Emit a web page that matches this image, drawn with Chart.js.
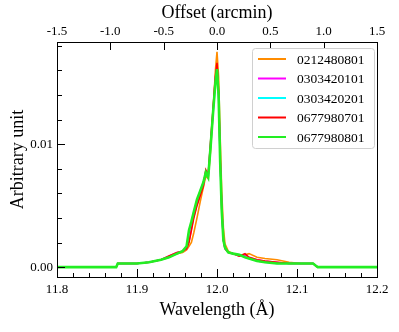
<!DOCTYPE html>
<html>
<head>
<meta charset="utf-8">
<script src="https://cdn.jsdelivr.net/npm/chart.js@4"></script>
<style>
  html, body { margin: 0; padding: 0; background: #fff; }
  canvas { display: block; }
</style>
</head>
<body>
<canvas id="chartLines" width="399" height="332"></canvas>
<script>
// wavelength grid (Angstrom), shared by all observations
const wavelength = [11.80, 11.874, 11.876, 11.90, 11.915, 11.93, 11.94, 11.95, 11.957, 11.962,
  11.965, 11.968, 11.971, 11.975, 11.979, 11.983, 11.986, 11.989, 11.992, 11.995,
  11.998, 12.000, 12.002, 12.004, 12.006, 12.008, 12.010, 12.014, 12.020, 12.028,
  12.035, 12.040, 12.050, 12.060, 12.075, 12.090, 12.105, 12.120, 12.126, 12.200];

const obsIds = ['0212480801', '0303420101', '0303420201', '0677980701', '0677980801'];

const obs0212480801 = [0, 0, 0.0003, 0.0003, 0.0004, 0.0006, 0.0008, 0.0011, 0.0012, 0.0014,
  0.0017, 0.0020, 0.0028, 0.0040, 0.0053, 0.0065, 0.0074, 0.0072, 0.0095, 0.0125,
  0.0160, 0.0175, 0.0155, 0.0105, 0.0060, 0.0032, 0.0019, 0.0013, 0.0011, 0.0009,
  0.0010, 0.0011, 0.0008, 0.0007, 0.0006, 0.0004, 0.0003, 0.0003, 0, 0];

const obs0303420101 = [0, 0, 0.0003, 0.0003, 0.0004, 0.0006, 0.0009, 0.0012, 0.0013, 0.0015,
  0.0021, 0.0031, 0.0041, 0.0051, 0.0059, 0.0067, 0.0078, 0.0075, 0.0101, 0.0127,
  0.0153, 0.0164, 0.0140, 0.0087, 0.0046, 0.0022, 0.0015, 0.0012, 0.0011, 0.0009,
  0.0010, 0.0008, 0.0006, 0.0005, 0.0004, 0.0003, 0.0003, 0.0003, 0, 0];

const obs0303420201 = [0, 0, 0.0003, 0.0003, 0.0004, 0.0006, 0.0008, 0.0011, 0.0013, 0.0017,
  0.0029, 0.0037, 0.0045, 0.0054, 0.0062, 0.0069, 0.0076, 0.0073, 0.0098, 0.0124,
  0.0149, 0.0160, 0.0139, 0.0084, 0.0045, 0.0022, 0.0015, 0.0012, 0.0011, 0.0010,
  0.0008, 0.0007, 0.0005, 0.0004, 0.0003, 0.0003, 0.0003, 0.0003, 0, 0];

const obs0677980701 = [0, 0, 0.0003, 0.0003, 0.0004, 0.0006, 0.0009, 0.0012, 0.0013, 0.0015,
  0.0020, 0.0030, 0.0040, 0.0050, 0.0058, 0.0066, 0.0079, 0.0075, 0.0102, 0.0128,
  0.0155, 0.0166, 0.0142, 0.0088, 0.0046, 0.0022, 0.0015, 0.0012, 0.0011, 0.0009,
  0.0011, 0.0008, 0.0006, 0.0005, 0.0004, 0.0003, 0.0003, 0.0003, 0, 0];

const obs0677980801 = [0, 0, 0.0003, 0.0003, 0.0004, 0.0006, 0.0008, 0.0011, 0.0013, 0.0017,
  0.0030, 0.0037, 0.0045, 0.0055, 0.0062, 0.0069, 0.0077, 0.0073, 0.0098, 0.0125,
  0.0150, 0.0161, 0.0140, 0.0085, 0.0045, 0.0022, 0.0016, 0.0012, 0.0011, 0.0010,
  0.0008, 0.0007, 0.0005, 0.0004, 0.0003, 0.0003, 0.0003, 0.0003, 0, 0];

const xTicks = [11.8, 11.9, 12.0, 12.1, 12.2];
const yTicks = [0, 0.01];
const offsetTicks = [-1.5, -1.0, -0.5, 0.0, 0.5, 1.0, 1.5];

const serif = "'Liberation Serif', 'DejaVu Serif', serif";
const black = '#000';

const xMinor = [];
for (let i = 0; i <= 20; i++) xMinor.push(11.8 + i * 0.02);
const yMinor = [];
for (let i = 0; i <= 9; i++) yMinor.push(i * 0.002);

function pts(values) {
  return wavelength.map((w, i) => ({ x: w, y: values[i] }));
}

// inward ticks, frame and boxed legend inside the plot
const framePlugin = {
  id: 'frame',
  afterDatasetsDraw(chart) {
    const { ctx, chartArea: a, scales } = chart;
    ctx.save();
    ctx.strokeStyle = black;
    ctx.lineWidth = 1;
    ctx.beginPath();
    xMinor.forEach(v => {
      const px = Math.round(scales.x.getPixelForValue(v)) + 0.5;
      const major = xTicks.some(t => Math.abs(t - v) < 1e-6);
      ctx.moveTo(px, a.bottom);
      ctx.lineTo(px, a.bottom - (major ? 8 : 4));
    });
    offsetTicks.forEach(v => {
      const px = Math.round(scales.x2.getPixelForValue(v)) + 0.5;
      ctx.moveTo(px, a.top);
      ctx.lineTo(px, a.top + 8);
    });
    yMinor.forEach(v => {
      const py = Math.round(scales.y.getPixelForValue(v)) + 0.5;
      const major = yTicks.some(t => Math.abs(t - v) < 1e-9);
      ctx.moveTo(a.left, py);
      ctx.lineTo(a.left + (major ? 8 : 5), py);
    });
    ctx.stroke();
    ctx.strokeRect(Math.round(a.left) + 0.5, Math.round(a.top) + 0.5,
      Math.round(a.right - a.left), Math.round(a.bottom - a.top));

    // legend
    const lx = a.left + 195, ly = a.top + 6, lw = 122, lh = 100;
    ctx.fillStyle = '#fff';
    ctx.strokeStyle = '#d0d0d0';
    ctx.beginPath();
    ctx.roundRect(lx + 0.5, ly + 0.5, lw, lh, 3);
    ctx.fill();
    ctx.stroke();
    ctx.font = '13.5px ' + serif;
    ctx.textBaseline = 'middle';
    chart.data.datasets.forEach((ds, i) => {
      const y = ly + 11 + i * 19.5;
      ctx.strokeStyle = ds.borderColor;
      ctx.lineWidth = 2;
      ctx.beginPath();
      ctx.moveTo(lx + 6, y);
      ctx.lineTo(lx + 34, y);
      ctx.stroke();
      ctx.fillStyle = black;
      ctx.fillText(ds.label, lx + 45, y + 1);
    });
    ctx.restore();
  }
};

const colors = ['#ff8c00', '#ff00ff', '#00ffff', '#ff0000', '#22ee22'];
const series = [obs0212480801, obs0303420101, obs0303420201, obs0677980701, obs0677980801];

new Chart(document.getElementById('chartLines'), {
  type: 'line',
  data: {
    datasets: series.map((vals, i) => ({
      label: obsIds[i],
      data: pts(vals),
      borderColor: colors[i],
      borderWidth: i === 4 ? 2.6 : 1.6,
      pointRadius: 0,
      tension: 0,
      fill: false,
      order: series.length - i
    }))
  },
  plugins: [framePlugin],
  options: {
    responsive: false,
    animation: false,
    layout: { padding: { right: 22 } },
    plugins: { legend: { display: false }, tooltip: { enabled: false } },
    scales: {
      x: {
        type: 'linear',
        position: 'bottom',
        min: 11.8,
        max: 12.2,
        afterBuildTicks: s => { s.ticks = xTicks.map(v => ({ value: v })); },
        afterFit: s => { s.height = 55; },
        ticks: { callback: v => v.toFixed(1), color: black, font: { family: serif, size: 13 }, padding: 5, maxRotation: 0 },
        grid: { display: false, drawTicks: false },
        border: { display: false },
        title: { display: true, text: 'Wavelength (Å)', color: black, font: { family: serif, size: 18 }, padding: { bottom: 11 } }
      },
      x2: {
        type: 'linear',
        position: 'top',
        min: -1.5,
        max: 1.5,
        afterBuildTicks: s => { s.ticks = offsetTicks.map(v => ({ value: v })); },
        afterFit: s => { s.height = 42; },
        ticks: { callback: v => v.toFixed(1), color: black, font: { family: serif, size: 13 }, padding: 3, maxRotation: 0 },
        grid: { display: false, drawTicks: false },
        border: { display: false },
        title: { display: true, text: 'Offset (arcmin)', color: black, font: { family: serif, size: 18 }, padding: { top: 2 } }
      },
      y: {
        type: 'linear',
        position: 'left',
        min: -0.0008,
        max: 0.0183,
        afterBuildTicks: s => { s.ticks = yTicks.map(v => ({ value: v })); },
        afterFit: s => { s.width = 57; },
        ticks: { callback: v => v.toFixed(2), color: black, font: { family: serif, size: 13 }, padding: 4 },
        grid: { display: false, drawTicks: false },
        border: { display: false },
        title: { display: true, text: 'Arbitrary unit', color: black, font: { family: serif, size: 18 }, padding: { top: 7 } }
      }
    }
  }
});
</script>
</body>
</html>
